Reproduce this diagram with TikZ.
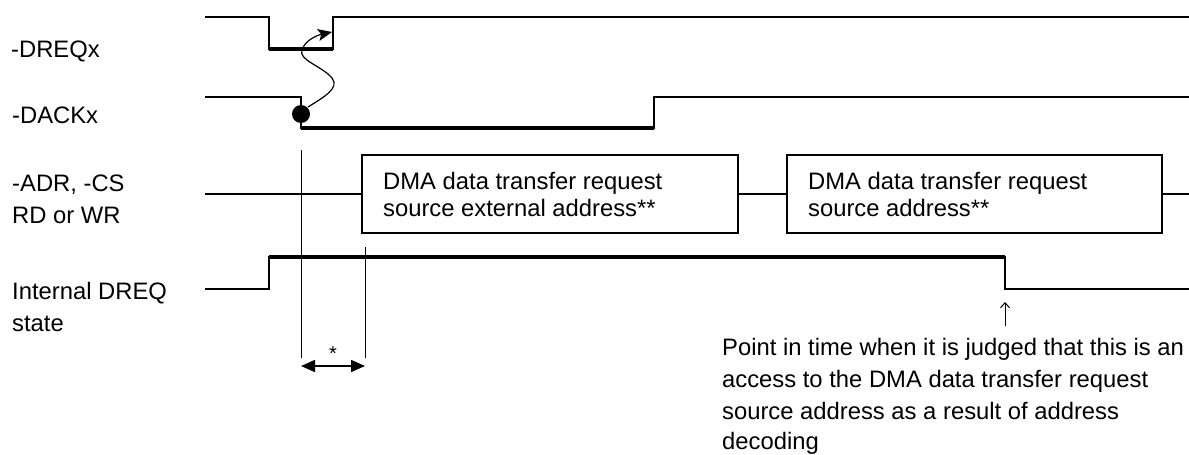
\documentclass[tikz,border=0pt]{standalone}
\usepackage{fontspec}
\setmainfont{Liberation Sans}
\usetikzlibrary{arrows.meta}
\begin{document}
\begin{tikzpicture}[x=1pt,y=-1pt,
  sig/.style={line width=2.2pt},
  hold/.style={line width=4.4pt},
  guide/.style={line width=1pt},
  lbl/.style={anchor=base west, inner sep=0pt, font=\fontsize{23.8}{28}\selectfont},
  busbox/.style={draw, line width=2pt, inner sep=0pt, minimum height=78pt, minimum width=#1}]
\useasboundingbox (0,0) rectangle (1189,455);

% signal names
\node[lbl] (nDreq) at (11,57) {-DREQx};
\node[lbl] (nDack) at (12,123) {-DACKx};
\node[lbl] (nAdrA) at (12,191) {-ADR, -CS};
\node[lbl] (nAdrB) at (12,223) {RD or WR};
\node[lbl] (nIntA) at (12,299) {Internal DREQ};
\node[lbl] (nIntB) at (12,331) {state};

% -DREQx
\draw[sig] (205,17) -- (269,17) -- (269,49) -- (333,49) -- (333,17) -- (1189,17);
\draw[hold] (269,49) -- (333,49);

% -DACKx
\draw[sig] (205,97) -- (301,97) -- (301,128) -- (654,128) -- (654,97) -- (1189,97);
\draw[hold] (301,128) -- (654,128);
\fill (301,114) circle[radius=9];
\draw[line width=1.2pt, -{Stealth[length=14pt,width=12pt,inset=3pt]}]
  (308,107) .. controls (324,97) and (340,88) .. (332,78)
  .. controls (322,66) and (298,60) .. (302,50)
  .. controls (305,40) and (318,35) .. (332,32);

% address bus
\node[busbox=376pt] (box1) at (550,194) {};
\node[busbox=375pt] (box2) at (974.5,194) {};
\coordinate (busL) at (205,194);
\coordinate (busR) at (1189,194);
\draw[sig] (busL) -- (box1.west);
\draw[sig] (box1.east) -- (box2.west);
\draw[sig] (box2.east) -- (busR);
\node[lbl] (t1a) at (383,189) {DMA data transfer request};
\node[lbl] (t1b) at (383,216) {source external address**};
\node[lbl] (t2a) at (808,189) {DMA data transfer request};
\node[lbl] (t2b) at (808,216) {source address**};

% internal DREQ state
\draw[sig] (205,289) -- (269,289) -- (269,257) -- (1005,257) -- (1005,289) -- (1189,289);
\draw[hold] (269,257) -- (1005,257);

% timing interval
\coordinate (gA) at (301,150);
\coordinate (gAe) at (301,358);
\coordinate (gB) at (365,247);
\coordinate (gBe) at (365,358);
\draw[guide] (gA) -- (gAe);
\draw[guide] (gB) -- (gBe);
\coordinate (dA) at (301,366);
\coordinate (dB) at (365,366);
\draw[line width=1.5pt, {Triangle[length=14pt,width=12pt]}-{Triangle[length=14pt,width=12pt]}] (dA) -- (dB);
\node[anchor=base, inner sep=0pt, font=\fontsize{20}{24}\selectfont] (star) at (333,360) {*};

% decoding point
\coordinate (pBot) at (1005,326);
\coordinate (pTop) at (1005,302);
\draw[line width=1pt, -{Straight Barb[length=5pt,width=9pt]}] (pBot) -- (pTop);
\node[lbl] (n1) at (722,355) {Point in time when it is judged that this is an};
\node[lbl] (n2) at (722,387) {access to the DMA data transfer request};
\node[lbl] (n3) at (722,419) {source address as a result of address};
\node[lbl] (n4) at (722,449) {decoding};
\end{tikzpicture}
\end{document}
